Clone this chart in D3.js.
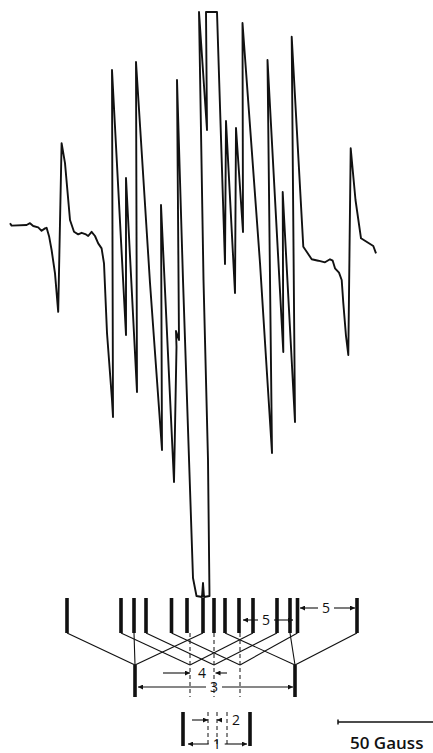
<!DOCTYPE html>
<html lang="en">
<head>
<meta charset="UTF-8" />
<script src="https://d3js.org/d3.v7.min.js"></script>
<title>EPR spectrum with splitting diagram</title>
<style>
  body { margin: 0; background: #fff; }
  svg { display: block; }
</style>
</head>
<body>
<script>
const width = 433;
const height = 753;

// recorded trace: field offset from centre (gauss) and derivative signal (arb. units)
const traceField = [
  -101, -100.2, -92.7, -91, -89.4, -86.9, -85.2, -83.5, -82.7, -81.4, -80.2, -78.5, -76.9,
  -75.2, -73.5, -71, -69, -66.9, -65.2, -63, -61.9, -60.2, -58.5, -56.9, -55.2, -54, -52.5,
  -50, -49.5, -50, -43, -43, -37.5, -38, -31, -25, -25.5, -19, -17.75, -18, -16.5, -17.5,
  -14.5, -9.5, -7.75, -5, -4.5, -4, -1.25, -2, -4.25, -6.5, -2.5, -3, 2.5, 6.5, 7, 11.5,
  12, 15.5, 15.25, 24, 30, 27.75, 35.65, 35.35, 41.5, 39.85, 45.65, 47.35, 49.85, 53.15,
  56.5, 59, 60.35, 61.5, 63.5, 64.85, 65.65, 67, 68.15, 69.35, 71.75, 74.5, 80.65, 82
];
const traceSignal = [
  1.4, 0.2, 0.5, 1.4, 0, -0.7, -2.4, -1.2, -0.9, -5.4, -12, -23.7, -42.9,
  41.4, 31.4, 3, -2.9, -4.2, -3.4, -4.2, -5, -2.9, -5, -8.7, -11.2, -18.7, -53.5,
  -87, -95.5, 78, -54.5, 24, -83, 82, -28.5, -112, 10.5, -128, -60.5, -52.5, -57, 73,
  -27, -176, -185, -185.5, -178.5, -185.5, -185, -117, -27, 107, 48, 107, 107, -19, 52.5, -33.5,
  49, -3, 101.5, -18.5, -113.5, 83, -63, 17, -98, 94.65, -10.35, -12.85, -16.65, -17.35,
  -18.15, -16.65, -17.35, -21.15, -23.35, -27, -38.5, -55, -64.5, 38.85, 13, -6.15, -10, -13.65
];

// splitting tree: lower nodes and the three lines each one gives (gauss)
const nodeField   = [-38.5, -11, 1, 14, 41.5];
const stickLeft   = [-72.5, -45.5, -33, -20.25, 6.5];
const stickCentre = [-39, -12.5, 1, 13.5, 39];
const stickRight  = [-4.5, 20.5, 32.5, 42.75, 72.5];

// splitting labels
const dimText  = ["5", "5", "3", "1"];
const dimFrom  = [44, 15.5, -37, -12];
const dimTo    = [71.5, 40.5, 40.5, 17.5];
const dimLabel = [57, 27, 1, 2.35];

// inward pointing pairs ("4" and "2")
const pairText  = ["4", "2"];
const pairFrom  = [-11, -2];
const pairTo    = [1.75, 2.5];
const pairTailL = [-24.5, -10];
const pairTailR = [7.5, 5];
const pairLabel = [-5, 12];

// lower group brackets and dashed guides
const bracketField = [-14.5, 19];
const guideField   = [-2, 2.5, 7.5];

const scaleStart = 63;
const scaleLength = 50;

const ink = "#111";

const svg = d3.select("body").append("svg")
  .attr("width", width)
  .attr("height", height);

const x = d3.scaleLinear().domain([-106, 110.5]).range([0, width]);
const y = d3.scaleLinear().domain([113, -263.5]).range([0, height]);

svg.append("defs").append("marker")
  .attr("id", "head")
  .attr("viewBox", "0 0 10 10")
  .attr("refX", 10).attr("refY", 5)
  .attr("markerWidth", 6).attr("markerHeight", 5)
  .attr("markerUnits", "userSpaceOnUse")
  .attr("orient", "auto")
  .append("path")
  .attr("d", "M0,0L10,5L0,10z")
  .attr("fill", ink);

// spectrum
const trace = traceField.map((f, i) => [f, traceSignal[i]]);
svg.append("path")
  .datum(trace)
  .attr("fill", "none")
  .attr("stroke", ink)
  .attr("stroke-width", 1.9)
  .attr("stroke-linejoin", "round")
  .attr("d", d3.line().x(d => x(d[0])).y(d => y(d[1])));

// tree rows (pixels)
const stickTop = 598, stickBottom = 633, nodeY = 665, barBottom = 697;

const nodes = nodeField.map((f, i) => ({
  f, left: stickLeft[i], centre: stickCentre[i], right: stickRight[i],
  outer: i === 0 || i === nodeField.length - 1
}));

const tree = svg.append("g").attr("stroke", ink).attr("fill", "none");

// top sticks
const sticks = stickLeft.concat(stickCentre, stickRight);
tree.selectAll(".stick")
  .data(sticks)
  .enter().append("line")
  .attr("class", "stick")
  .attr("x1", d => x(d)).attr("x2", d => x(d))
  .attr("y1", stickTop).attr("y2", stickBottom)
  .attr("stroke-width", 3.6);

// diagonals
nodes.forEach(n => {
  [n.left, n.right].forEach(s => {
    tree.append("line")
      .attr("x1", x(n.f)).attr("y1", nodeY)
      .attr("x2", x(s)).attr("y2", stickBottom)
      .attr("stroke-width", 1.1);
  });
  if (n.outer) {
    tree.append("line")
      .attr("x1", x(n.centre)).attr("y1", stickBottom)
      .attr("x2", x(n.f)).attr("y2", nodeY)
      .attr("stroke-width", 1.1);
    tree.append("line")
      .attr("x1", x(n.f)).attr("y1", nodeY)
      .attr("x2", x(n.f)).attr("y2", barBottom)
      .attr("stroke-width", 3.6);
  } else {
    tree.append("line")
      .attr("x1", x(n.f)).attr("y1", stickBottom)
      .attr("x2", x(n.f)).attr("y2", barBottom)
      .attr("stroke-width", 1)
      .attr("stroke-dasharray", "4 3");
  }
});

// dimension rows
const dimRow = [608, 620, 687, 744];
const labels = svg.append("g")
  .attr("font-family", "'Open Sans', 'DejaVu Sans', sans-serif")
  .attr("font-size", 14)
  .attr("fill", ink)
  .attr("text-anchor", "middle");

dimText.forEach((t, i) => {
  const cx = x(dimLabel[i]);
  const gap = 8;
  [[cx - gap, x(dimFrom[i])], [cx + gap, x(dimTo[i])]].forEach(([a, b]) => {
    svg.append("line")
      .attr("x1", a).attr("y1", dimRow[i])
      .attr("x2", b).attr("y2", dimRow[i])
      .attr("stroke", ink).attr("stroke-width", 1.1)
      .attr("marker-end", "url(#head)");
  });
  labels.append("text")
    .attr("x", cx).attr("y", dimRow[i] + 5)
    .text(t);
});

const pairRow = [673, 720];
pairText.forEach((t, i) => {
  [[pairTailL[i], pairFrom[i]], [pairTailR[i], pairTo[i]]].forEach(([a, b]) => {
    svg.append("line")
      .attr("x1", x(a)).attr("y1", pairRow[i])
      .attr("x2", x(b)).attr("y2", pairRow[i])
      .attr("stroke", ink).attr("stroke-width", 1.1)
      .attr("marker-end", "url(#head)");
  });
  labels.append("text")
    .attr("x", x(pairLabel[i])).attr("y", pairRow[i] + 5)
    .text(t);
});

// lower group
const groupTop = 712, groupBottom = 746;
svg.selectAll(".bracket")
  .data(bracketField)
  .enter().append("line")
  .attr("class", "bracket")
  .attr("x1", d => x(d)).attr("x2", d => x(d))
  .attr("y1", groupTop).attr("y2", groupBottom)
  .attr("stroke", ink).attr("stroke-width", 3.6);

svg.selectAll(".guide")
  .data(guideField)
  .enter().append("line")
  .attr("class", "guide")
  .attr("x1", d => x(d)).attr("x2", d => x(d))
  .attr("y1", groupTop).attr("y2", groupBottom)
  .attr("stroke", ink).attr("stroke-width", 1)
  .attr("stroke-dasharray", "4 3");

// scale bar
const barY = 722;
svg.append("line")
  .attr("x1", x(scaleStart)).attr("x2", x(scaleStart + scaleLength))
  .attr("y1", barY).attr("y2", barY)
  .attr("stroke", ink).attr("stroke-width", 1.5);
svg.append("line")
  .attr("x1", x(scaleStart)).attr("x2", x(scaleStart))
  .attr("y1", barY - 2.5).attr("y2", barY + 2.5)
  .attr("stroke", ink).attr("stroke-width", 1.5);

svg.append("text")
  .attr("x", x(scaleStart + 6))
  .attr("y", 749)
  .attr("font-family", "'Open Sans', 'DejaVu Sans', sans-serif")
  .attr("font-size", 17)
  .attr("font-weight", 600)
  .attr("fill", ink)
  .text("50 Gauss");
</script>
</body>
</html>
